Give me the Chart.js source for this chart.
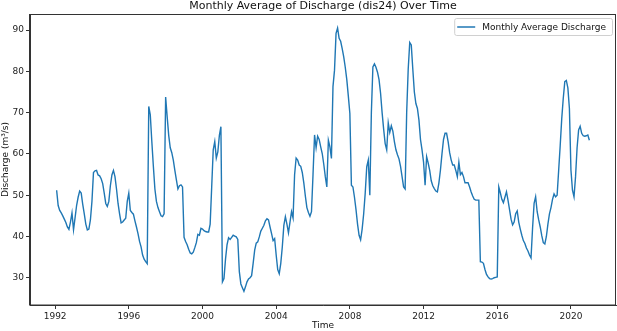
<!DOCTYPE html>
<html lang="en">
<head>
  <meta charset="UTF-8">
  <title>Monthly Average of Discharge (dis24) Over Time</title>
  <style>
    body { margin: 0; padding: 0; background: #fff; }
    #box { width: 617px; height: 331px; }
  </style>
  <script src="https://cdn.jsdelivr.net/npm/chart.js"></script>
</head>
<body>
  <div id="box">
    <canvas id="chart" width="617" height="331"></canvas>
  </div>
  <script>
    // === Daten: Monatsmittel ab Januar 1992 (Monatsende) ===
    const START_JAHR = 1992;
    const TITEL = 'Monthly Average of Discharge (dis24) Over Time';
    const LEGENDE = 'Monthly Average Discharge';
    const X_TITEL = 'Time';
    const Y_TITEL = 'Discharge (m\u00b3/s)';
    const xTicks = [1992, 1996, 2000, 2004, 2008, 2012, 2016, 2020];
    const yTicks = [30, 40, 50, 60, 70, 80, 90];

    const abfluss = [
      51.2, 47.5, 46.3, 45.7, 45.0, 44.2, 43.4, 42.3, 41.7, 43.5, 45.7, 41.6, // 1992
      44.5, 47.5, 49.5, 51.0, 50.5, 47.8, 45.5, 43.0, 41.6, 41.8, 44.0, 48.5, // 1993
      55.5, 55.9, 56.0, 54.9, 54.7, 54.0, 52.8, 50.5, 48.0, 47.3, 48.5, 52.3, // 1994
      54.9, 56.0, 54.5, 51.5, 48.0, 45.5, 43.3, 43.5, 44.0, 44.4, 48.5, 50.5, // 1995
      46.3, 45.8, 45.4, 43.8, 42.3, 40.7, 38.8, 37.5, 35.5, 34.5, 33.9, 33.4, // 1996
      71.5, 69.5, 63.0, 57.0, 51.5, 48.5, 47.0, 46.0, 45.0, 44.8, 45.5, 73.8, // 1997
      69.0, 64.5, 61.5, 60.3, 58.5, 56.0, 53.7, 51.5, 52.3, 52.5, 52.0, 39.8, // 1998
      38.8, 38.0, 36.9, 36.0, 35.8, 36.2, 37.3, 38.5, 40.5, 40.3, 42.0, 41.8, // 1999
      41.4, 41.2, 41.1, 41.1, 43.0, 52.0, 61.0, 63.0, 59.0, 60.5, 64.5, 66.6, // 2000
      29.0, 29.8, 34.5, 38.0, 39.7, 39.3, 39.8, 40.3, 40.1, 39.9, 39.3, 31.5, // 2001
      28.5, 27.6, 26.7, 27.8, 29.0, 29.7, 30.0, 30.5, 33.5, 36.7, 38.4, 38.7, // 2002
      39.9, 41.3, 42.0, 42.7, 43.8, 44.3, 44.0, 42.3, 40.7, 39.0, 39.5, 35.5, // 2003
      32.0, 31.0, 33.5, 37.5, 42.7, 44.8, 43.0, 40.9, 43.5, 46.0, 44.5, 55.0, // 2004
      59.0, 58.5, 57.3, 57.0, 55.5, 53.0, 49.8, 47.0, 45.8, 44.9, 46.0, 55.0, // 2005
      64.6, 61.5, 64.3, 63.5, 61.7, 60.1, 57.5, 54.5, 52.0, 63.3, 61.7, 58.9, // 2006
      76.3, 80.3, 89.2, 90.5, 88.0, 87.3, 85.5, 83.5, 81.0, 78.0, 74.0, 69.8, // 2007
      52.4, 52.0, 49.5, 46.5, 43.0, 40.3, 39.2, 41.8, 45.5, 50.5, 56.9, 58.5, // 2008
      50.0, 70.0, 81.1, 81.8, 81.0, 79.8, 78.0, 74.7, 70.0, 66.0, 62.5, 61.0, // 2009
      67.5, 65.2, 66.8, 65.5, 63.0, 61.0, 59.8, 58.8, 57.0, 54.5, 52.0, 51.5, // 2010
      70.0, 80.5, 87.0, 86.4, 80.5, 75.0, 72.2, 71.0, 68.2, 63.5, 61.0, 58.0, // 2011
      52.4, 59.3, 57.8, 56.0, 53.5, 52.3, 51.6, 51.0, 50.8, 53.0, 56.1, 60.0, // 2012
      63.5, 65.0, 65.0, 63.0, 60.3, 58.5, 57.3, 57.3, 56.0, 54.5, 58.0, 55.0, // 2013
      55.5, 54.5, 53.0, 53.0, 53.0, 52.0, 50.8, 49.8, 49.0, 48.8, 48.8, 48.8, // 2014
      33.9, 33.8, 33.5, 32.0, 30.8, 30.2, 29.8, 29.7, 29.8, 30.0, 30.1, 30.2, // 2015
      52.0, 50.6, 49.0, 48.2, 49.5, 50.8, 48.8, 46.5, 44.2, 42.8, 43.5, 45.5, // 2016
      46.2, 43.5, 41.8, 40.3, 39.0, 38.3, 37.2, 36.5, 35.5, 34.8, 42.0, 48.0, // 2017
      49.6, 46.0, 44.0, 42.3, 40.2, 38.5, 38.2, 40.0, 43.0, 45.5, 47.0, 49.0, // 2018
      50.3, 49.6, 50.0, 56.0, 62.0, 68.5, 73.5, 77.5, 77.8, 76.0, 71.0, 56.1, // 2019
      51.2, 49.6, 54.5, 61.5, 65.8, 66.7, 65.0, 64.4, 64.3, 64.4, 64.6, 63.3  // 2020
    ];

    const SCHRIFT = '"DejaVu Sans", sans-serif';
    const LINIE = '#1f77b4';
    const ACHSE = '#333';

    // Monatsende als Dezimaljahr
    const punkte = abfluss.map((v, i) => ({ x: START_JAHR + (i + 0.97) / 12, y: v }));

    // matplotlib-artige Ränder (5 %)
    const xMin = punkte[0].x, xMax = punkte[punkte.length - 1].x;
    const xRand = (xMax - xMin) * 0.05;

    // Titel, Rahmen und Legende selbst zeichnen
    const deko = {
      id: 'deko',
      afterDraw(chart) {
        const ctx = chart.ctx;
        const a = chart.chartArea;
        ctx.save();
        ctx.strokeStyle = ACHSE;
        ctx.lineWidth = 1;
        ctx.strokeRect(a.left - 0.5, a.top + 0.5, a.right - a.left, a.bottom - a.top - 0.5);

        ctx.fillStyle = '#111';
        ctx.font = '11px ' + SCHRIFT;
        ctx.textAlign = 'center';
        ctx.textBaseline = 'middle';
        ctx.fillText(TITEL, (a.left + a.right) / 2, 6.5);

        // Legende oben rechts
        ctx.font = '9px ' + SCHRIFT;
        const tw = ctx.measureText(chart.data.datasets[0].label).width;
        const bw = tw + 34, bh = 17;
        const bx = a.right - 4 - bw, by = a.top + 4;
        ctx.fillStyle = 'rgba(255,255,255,0.8)';
        ctx.strokeStyle = '#d0d0d0';
        ctx.beginPath();
        ctx.roundRect(bx + 0.5, by + 0.5, bw, bh, 2);
        ctx.fill();
        ctx.stroke();
        ctx.strokeStyle = LINIE;
        ctx.lineWidth = 1.5;
        ctx.beginPath();
        ctx.moveTo(bx + 3, by + bh / 2 + 0.5);
        ctx.lineTo(bx + 21, by + bh / 2 + 0.5);
        ctx.stroke();
        ctx.fillStyle = '#111';
        ctx.textAlign = 'left';
        ctx.fillText(chart.data.datasets[0].label, bx + 28, by + bh / 2 + 1);
        ctx.restore();
      }
    };

    new Chart(document.getElementById('chart').getContext('2d'), {
      type: 'line',
      data: {
        datasets: [{
          label: LEGENDE,
          data: punkte,
          borderColor: LINIE,
          backgroundColor: LINIE,
          borderWidth: 1.4,
          pointRadius: 0,
          fill: false,
          tension: 0
        }]
      },
      options: {
        responsive: false,
        animation: false,
        layout: { padding: { top: 14, right: 1, left: 0, bottom: 0 } },
        plugins: {
          legend: { display: false },
          title: { display: false },
          tooltip: { enabled: false }
        },
        scales: {
          x: {
            type: 'linear',
            min: xMin - xRand,
            max: xMax + xRand,
            afterBuildTicks: s => { s.ticks = xTicks.map(v => ({ value: v })); },
            afterFit: s => { s.height = 26; },
            grid: { drawOnChartArea: false, color: ACHSE, tickLength: 4, tickColor: ACHSE },
            border: { color: ACHSE },
            ticks: { color: '#222', padding: 2, maxRotation: 0, font: { family: SCHRIFT, size: 9 },
                     callback: v => String(v) },
            title: { display: true, text: X_TITEL, color: '#111', padding: { top: 0, bottom: 0 },
                     font: { family: SCHRIFT, size: 9 } }
          },
          y: {
            min: 23.4,
            max: 93.9,
            afterBuildTicks: s => { s.ticks = yTicks.map(v => ({ value: v })); },
            afterFit: s => { s.width = 30; },
            grid: { drawOnChartArea: false, color: ACHSE, tickLength: 4, tickColor: ACHSE },
            border: { color: ACHSE },
            ticks: { color: '#222', padding: 2, font: { family: SCHRIFT, size: 9 },
                     callback: v => String(v) },
            title: { display: true, text: Y_TITEL, color: '#111', padding: { top: 0, bottom: 0 },
                     font: { family: SCHRIFT, size: 9 } }
          }
        }
      },
      plugins: [deko]
    });
  </script>
</body>
</html>
